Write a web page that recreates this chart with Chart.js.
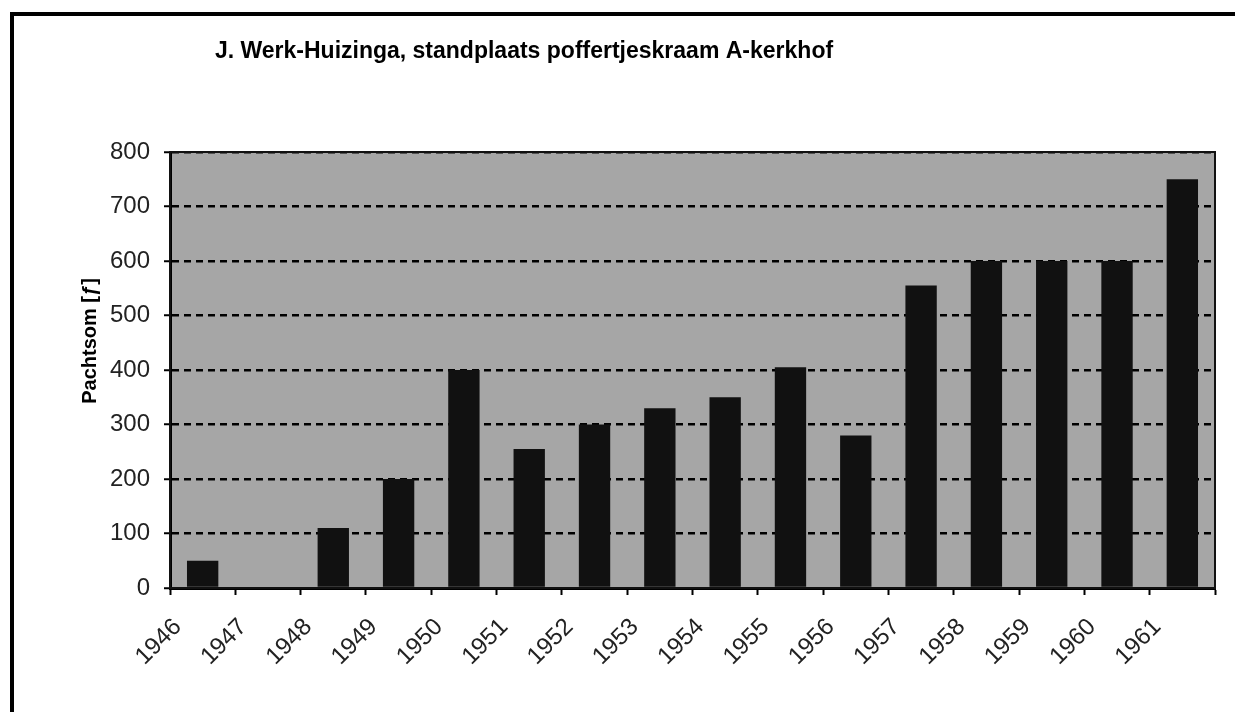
<!DOCTYPE html>
<html>
<head>
<meta charset="utf-8">
<script src="https://cdn.jsdelivr.net/npm/chart.js@4"></script>
<style>
  body { margin: 0; background: #fff; }
  #wrap { position: relative; width: 1235px; height: 712px; }
  #frame {
    position: absolute; left: 10px; top: 12px; right: -10px; bottom: -10px;
    border-top: 4px solid #000; border-left: 4px solid #000;
    pointer-events: none;
  }
</style>
</head>
<body>
<div id="wrap">
  <canvas id="chart" width="1235" height="712"></canvas>
  <div id="frame"></div>
</div>
<script>
const chartTitle = "J. Werk-Huizinga, standplaats poffertjeskraam A-kerkhof";
const yTitle = "Pachtsom [ƒ]";
const years = ["1946", "1947", "1948", "1949", "1950", "1951", "1952", "1953",
  "1954", "1955", "1956", "1957", "1958", "1959", "1960", "1961"];
const pachtsom = [50, 0, 110, 200, 400, 255, 300, 330, 350, 405, 280, 555, 600, 600, 600, 750];
const yTicks = [0, 100, 200, 300, 400, 500, 600, 700, 800];

// gray plot background + frame, and the two titles
const plotArea = {
  id: "plotArea",
  beforeDraw(chart) {
    const { ctx, chartArea: a } = chart;
    ctx.save();
    ctx.fillStyle = "#a6a6a6";
    ctx.fillRect(a.left, a.top, a.right - a.left, a.bottom - a.top);
    ctx.restore();
  },
  afterDraw(chart) {
    const { ctx, chartArea: a } = chart;
    ctx.save();
    ctx.strokeStyle = "#111";
    ctx.lineWidth = 2;
    ctx.strokeRect(a.left, a.top, a.right - a.left, a.bottom - a.top);

    ctx.fillStyle = "#000";
    ctx.font = "bold 23px 'Liberation Sans', Arial, sans-serif";
    ctx.textAlign = "center";
    ctx.textBaseline = "middle";
    ctx.fillText(chartTitle, 524, 52);

    ctx.translate(90, 341);
    ctx.rotate(-Math.PI / 2);
    ctx.font = "bold 20px 'Liberation Sans', Arial, sans-serif";
    ctx.fillText(yTitle, 0, 0);
    ctx.restore();
  },
};

new Chart(document.getElementById("chart"), {
  type: "bar",
  data: {
    labels: years,
    datasets: [{
      data: pachtsom,
      backgroundColor: "#111",
      categoryPercentage: 1,
      barPercentage: 0.48,
    }],
  },
  options: {
    responsive: false,
    animation: false,
    layout: { padding: { top: 152, right: 20, left: 0, bottom: 0 } },
    plugins: { legend: { display: false }, title: { display: false }, tooltip: { enabled: false } },
    scales: {
      x: {
        afterFit: (s) => { s.height = 124; },
        grid: {
          display: true, drawOnChartArea: false, offset: true,
          tickLength: 7, tickColor: "#000", tickWidth: 2,
        },
        border: { color: "#000", width: 3 },
        ticks: {
          color: "#222",
          font: { family: "'Liberation Sans', Arial, sans-serif", size: 24 },
          minRotation: 45, maxRotation: 45,
          labelOffset: -25, padding: 18,
          autoSkip: false,
        },
      },
      y: {
        min: 0, max: 800,
        afterFit: (s) => { s.width = 170; },
        afterBuildTicks: (s) => { s.ticks = yTicks.map((v) => ({ value: v })); },
        grid: { color: "#000", lineWidth: 2.5, tickLength: 6, tickColor: "#000", tickWidth: 2 },
        border: { color: "#000", width: 3, dash: [7, 5] },
        ticks: {
          color: "#222",
          font: { family: "'Liberation Sans', Arial, sans-serif", size: 24 },
          padding: 14,
        },
      },
    },
  },
  plugins: [plotArea],
});
</script>
</body>
</html>
